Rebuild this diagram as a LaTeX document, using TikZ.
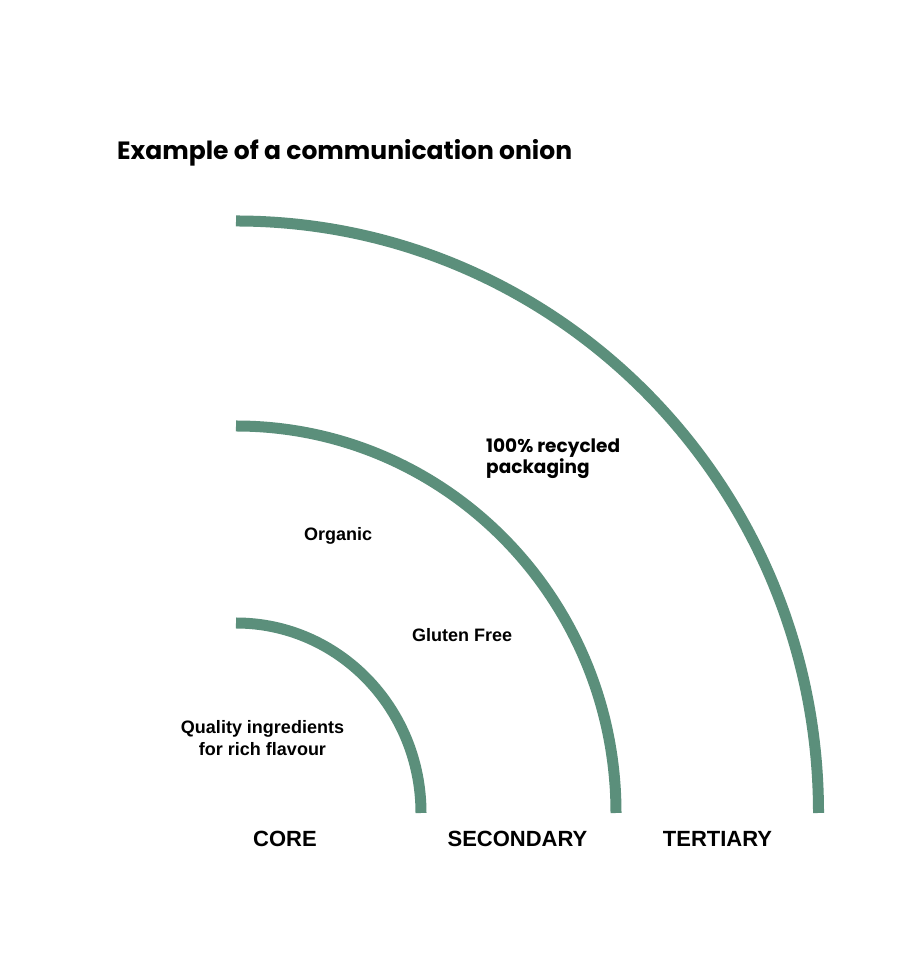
\documentclass[tikz,border=0pt]{standalone}
\usepackage{fontspec}
\setmainfont{Liberation Sans}
\newfontfamily\popfont{Poppins}
\definecolor{onion}{RGB}{91,143,123}
\tikzset{
  ring/.style={draw=onion, line width=11pt, line cap=butt},
  lbl/.style={inner sep=0pt, font=\bfseries\fontsize{18}{21.5}\selectfont, text=black},
  lvl/.style={inner sep=0pt, font=\bfseries\fontsize{22}{26}\selectfont, anchor=base, text=black},
  poplbl/.style={inner sep=0pt, font=\popfont\bfseries\fontsize{18.5}{21.5}\selectfont, text=black, align=left, anchor=base west},
}
\begin{document}
\begin{tikzpicture}[x=1pt,y=1pt]
\useasboundingbox[fill=white] (0,0) rectangle (897,960);
% title
\node[inner sep=0pt, anchor=base west, font=\popfont\bfseries\fontsize{25}{30}\selectfont] (title) at (117,800) {Example of a communication onion};
% rings (center at 236,147)
\coordinate (c) at (236,147);
\draw[ring] (236,337) arc[start angle=90, end angle=0, x radius=185, y radius=190];
\draw[ring] (236,534) arc[start angle=90, end angle=0, x radius=380, y radius=387];
\draw[ring] (236,739) arc[start angle=90, end angle=0, x radius=582.5, y radius=592];
% labels (multi-line nodes: base = last line)
\node[poplbl] (recycled) at (486,486) {100\% recycled\\packaging};
\node[lbl, anchor=base west] (organic) at (304,419) {Organic};
\node[lbl, anchor=base west] (gluten) at (412,318) {Gluten Free};
\node[lbl, anchor=base, align=center] (quality) at (262.5,204.5) {Quality ingredients\\for rich flavour};
\node[lvl] (core) at (285,113) {CORE};
\node[lvl] (secondary) at (517.5,113) {SECONDARY};
\node[lvl] (tertiary) at (717.5,113) {TERTIARY};
\end{tikzpicture}
\end{document}
